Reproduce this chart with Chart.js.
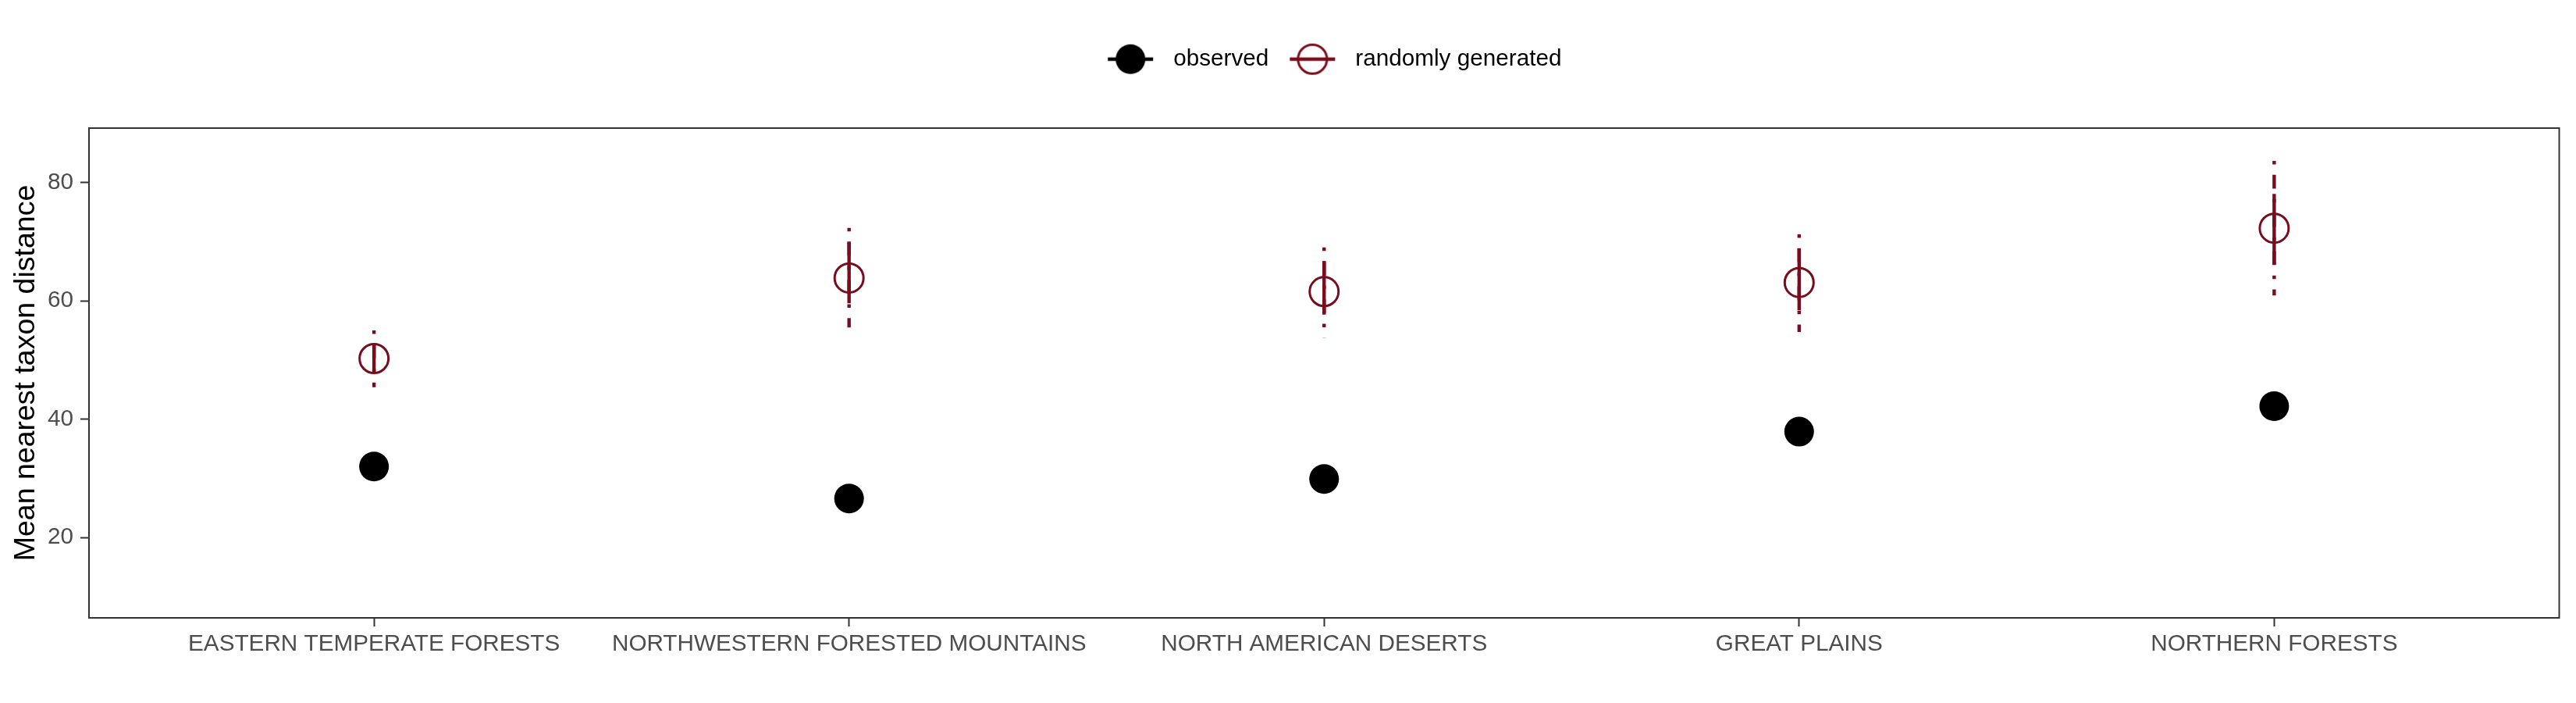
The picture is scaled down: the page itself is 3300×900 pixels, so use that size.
<!DOCTYPE html>
<html>
<head>
<meta charset="utf-8">
<script src="https://cdn.jsdelivr.net/npm/chart.js@4.4.1/dist/chart.umd.min.js"></script>
<style>
  html, body { margin: 0; padding: 0; background: #fff; }
  #chart { display: block; }
</style>
</head>
<body>
<canvas id="chart" width="3300" height="900"></canvas>
<script>
const categories = ['EASTERN TEMPERATE FORESTS', 'NORTHWESTERN FORESTED MOUNTAINS', 'NORTH AMERICAN DESERTS', 'GREAT PLAINS', 'NORTHERN FORESTS']
const observed = [32.0, 26.6, 29.9, 37.9, 42.2]
const randomMean = [50.25, 63.85, 61.56, 63.1, 72.27]
const randomLow = [45.4, 55.5, 53.75, 54.74, 60.9]
const randomHigh = [55.0, 72.33, 69.03, 71.24, 83.64]
const randomInnerLow = [47.84, 59.6, 57.68, 58.4, 66.09]
const randomInnerHigh = [52.54, 70.0, 66.71, 68.82, 78.06]
const yTicks = [20, 40, 60, 80]
const legendLabels = ['observed', 'randomly generated']

const red = '#780d1d'
const tickGrey = '#4d4d4d'
const fontFamily = "'Liberation Sans', Arial, Helvetica, sans-serif"

Chart.defaults.font.family = fontFamily

// small legend keys: a line through the point, like ggplot draws them
const makeIcon = (color, filled) => {
    const c = document.createElement('canvas')
    c.width = 62
    c.height = 44
    const g = c.getContext('2d')
    g.strokeStyle = color
    g.lineWidth = 4.4
    g.beginPath()
    g.moveTo(2, 22)
    g.lineTo(60, 22)
    g.stroke()
    g.beginPath()
    g.arc(31, 22, filled ? 19 : 18.5, 0, Math.PI * 2)
    if (filled) {
        g.fillStyle = color
        g.fill()
    } else {
        g.lineWidth = 3
        g.stroke()
    }
    return c
}

const legendIcons = [makeIcon('#000000', true), makeIcon(red, false)]

const panelBorder = {
    id: 'panelBorder',
    afterLayout(chart) {
        // nudge the legend row a little, as ggplot centres it on the panel
        const lg = chart.legend
        lg.left += 8
        lg.right += 8
        lg.top += 2
        lg.bottom += 2
    },
    afterDatasetsDraw(chart) {
        const {ctx, chartArea: a} = chart
        ctx.save()
        ctx.strokeStyle = '#333333'
        ctx.lineWidth = 2
        ctx.strokeRect(a.left, a.top, a.right - a.left, a.bottom - a.top)
        ctx.restore()
    }
}

const buildDatasets = () => {
    let datasets = []
    datasets.push({
        label: legendLabels[0],
        data: observed.map((v, i) => ({x: i + 1, y: v})),
        pointRadius: 19,
        pointBackgroundColor: '#000000',
        pointBorderWidth: 0
    })
    datasets.push({
        label: legendLabels[1],
        data: randomMean.map((v, i) => ({x: i + 1, y: v})),
        pointRadius: 18.5,
        pointBackgroundColor: 'rgba(0,0,0,0)',
        pointBorderColor: red,
        pointBorderWidth: 3
    })
    // solid inner range
    categories.forEach((c, i) => {
        datasets.push({
            label: 'inner ' + c,
            data: [{x: i + 1, y: randomInnerHigh[i]}, {x: i + 1, y: randomInnerLow[i]}],
            showLine: true,
            borderColor: red,
            borderWidth: 4.4,
            pointRadius: 0
        })
    })
    // dot-dash full range, drawn top to bottom
    categories.forEach((c, i) => {
        datasets.push({
            label: 'range ' + c,
            data: [{x: i + 1, y: randomHigh[i]}, {x: i + 1, y: randomLow[i]}],
            showLine: true,
            borderColor: red,
            borderWidth: 4.4,
            borderDash: [4.44, 13.33, 17.78, 13.33],
            borderCapStyle: 'butt',
            pointRadius: 0
        })
    })
    return datasets
}

const ctx = document.getElementById('chart').getContext('2d')
const myChart = new Chart(ctx, {
    type: 'scatter',
    data: {datasets: buildDatasets()},
    plugins: [panelBorder],
    options: {
        responsive: false,
        animation: false,
        events: [],
        layout: {
            padding: {top: 43, right: 21, bottom: 0, left: 0}
        },
        plugins: {
            tooltip: {enabled: false},
            legend: {
                display: true,
                position: 'top',
                fullSize: false,
                weight: 2000,
                labels: {
                    usePointStyle: true,
                    pointStyleWidth: 80.3,
                    padding: 15.85,
                    color: '#000000',
                    font: {size: 29.7, family: fontFamily},
                    generateLabels: () => legendLabels.map((t, i) => ({
                        text: t,
                        pointStyle: legendIcons[i],
                        fontColor: '#000000',
                        lineWidth: 0,
                        strokeStyle: 'rgba(0,0,0,0)',
                        fillStyle: 'rgba(0,0,0,0)',
                        datasetIndex: i
                    }))
                }
            },
            // empty title used only as a spacer between legend and panel
            title: {
                display: true,
                text: ' ',
                weight: 10,
                fullSize: false,
                font: {size: 10, lineHeight: 1},
                padding: {top: 55.45, bottom: 0}
            }
        },
        scales: {
            x: {
                type: 'linear',
                min: 0.4,
                max: 5.6,
                afterBuildTicks: (scale) => {
                    scale.ticks = categories.map((c, i) => ({value: i + 1}))
                },
                afterFit: (scale) => {
                    scale.height = 109
                },
                border: {display: false},
                grid: {
                    drawOnChartArea: false,
                    drawTicks: true,
                    tickLength: 11,
                    tickWidth: 2,
                    tickColor: '#333333'
                },
                ticks: {
                    autoSkip: false,
                    maxRotation: 0,
                    padding: 5,
                    color: tickGrey,
                    font: {size: 29.7},
                    callback: (v) => categories[v - 1]
                }
            },
            y: {
                type: 'linear',
                min: 6.43,
                max: 89.19,
                afterBuildTicks: (scale) => {
                    scale.ticks = yTicks.map(v => ({value: v}))
                },
                afterFit: (scale) => {
                    scale.width = 114
                },
                border: {display: false},
                grid: {
                    drawOnChartArea: false,
                    drawTicks: true,
                    tickLength: 11,
                    tickWidth: 2,
                    tickColor: '#333333'
                },
                ticks: {
                    padding: 9,
                    color: tickGrey,
                    font: {size: 29.7}
                },
                title: {
                    display: true,
                    text: 'Mean nearest taxon distance',
                    color: '#000000',
                    font: {size: 37.5},
                    padding: {top: 11.5, bottom: 0}
                }
            }
        }
    }
})
</script>
</body>
</html>
